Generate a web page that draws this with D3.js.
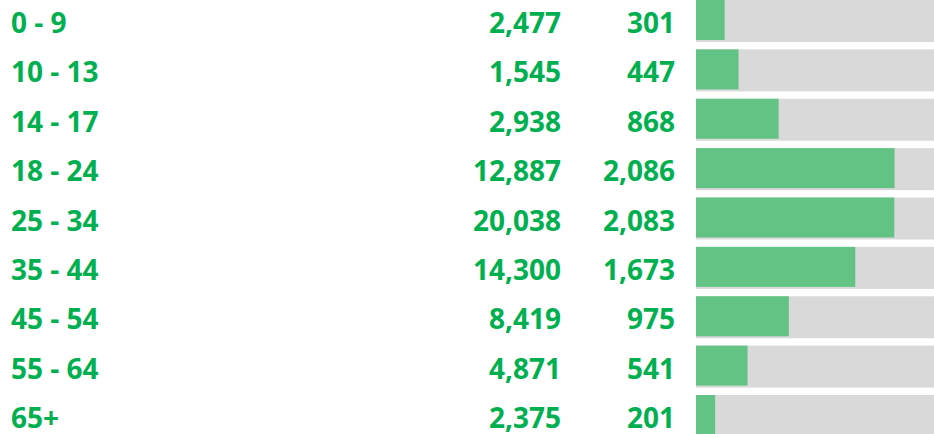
<!DOCTYPE html>
<html>
<head>
<meta charset="utf-8">
<script src="https://cdn.jsdelivr.net/npm/d3@7"></script>
<style>
  html, body { margin: 0; padding: 0; background: #fff; }
  svg { display: block; }
</style>
</head>
<body>
<svg id="chart" width="934" height="434"></svg>
<script>
const ageGroups = ["0 - 9", "10 - 13", "14 - 17", "18 - 24", "25 - 34", "35 - 44", "45 - 54", "55 - 64", "65+"];
const totals = [2477, 1545, 2938, 12887, 20038, 14300, 8419, 4871, 2375];
const counts = [301, 447, 868, 2086, 2083, 1673, 975, 541, 201];
const barMax = 2500;

const svg = d3.select("#chart");
const rowPitch = 395 / 8;

const y = d3.scaleBand().domain(ageGroups).range([0, rowPitch * 9]).paddingInner(0).paddingOuter(0);
const x = d3.scaleLinear().domain([0, barMax]).range([696, 934]);

const rows = ageGroups.map((g, i) => ({ g, total: totals[i], count: counts[i] }));
const fmt = d3.format(",");
const textColor = "#00B050";
const font = "'Open Sans', sans-serif";
const fontSize = 28;

const row = svg.selectAll("g.row").data(rows).join("g")
  .attr("class", "row")
  .attr("transform", d => `translate(0,${y(d.g)})`);

row.append("rect")
  .attr("x", x(0)).attr("y", 0)
  .attr("width", x(barMax) - x(0)).attr("height", 42)
  .attr("fill", "#D9D9D9");

row.append("rect")
  .attr("x", x(0)).attr("y", 0)
  .attr("width", d => x(d.count) - x(0)).attr("height", 40)
  .attr("fill", "#63C384");

function addText(sel, xPos, anchor, fn) {
  sel.append("text")
    .attr("x", xPos).attr("y", 33).attr("text-anchor", anchor)
    .attr("fill", textColor).attr("font-family", font).attr("font-weight", "bold")
    .attr("font-size", fontSize)
    .text(fn);
}
addText(row, 11, "start", d => d.g);
addText(row, 561, "end", d => fmt(d.total));
addText(row, 675, "end", d => fmt(d.count));
</script>
</body>
</html>
